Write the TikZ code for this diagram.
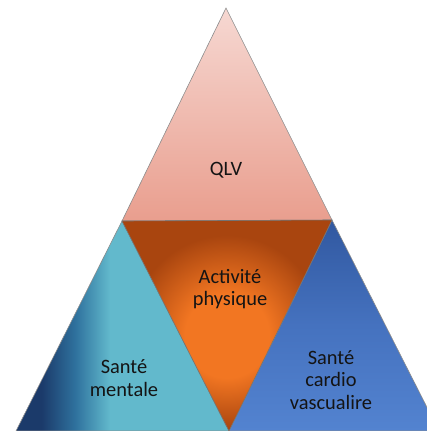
\documentclass[tikz,border=0pt]{standalone}
\usepackage{fontspec}
\setmainfont{Carlito}
\definecolor{pinkTop}{HTML}{F6D8D2}
\definecolor{pinkBot}{HTML}{E99E8E}
\definecolor{orgIn}{HTML}{F27622}
\definecolor{orgOut}{HTML}{A9450F}
\definecolor{tealDark}{HTML}{1B3A6A}
\definecolor{tealMid}{HTML}{2F729E}
\definecolor{tealLight}{HTML}{62B9CC}
\definecolor{blueDark}{HTML}{3158A0}
\definecolor{blueMid}{HTML}{4572BF}
\definecolor{blueLight}{HTML}{5383D0}
% left triangle: dark band on the far left, teal elsewhere
\pgfdeclarehorizontalshading{mentalshade}{100bp}{%
  color(0bp)=(tealDark); color(31bp)=(tealDark); color(39bp)=(tealMid);
  color(47bp)=(tealLight); color(100bp)=(tealLight)}
% central triangle: bright orange core, darker brown rim
\pgfdeclareradialshading{activeshade}{\pgfpoint{0bp}{-3bp}}{%
  color(0bp)=(orgIn); color(10bp)=(orgIn); color(23bp)=(orgOut); color(50bp)=(orgOut)}
\begin{document}
\begin{tikzpicture}[x=1bp,y=-1bp,
  tri/.style={draw=black!45, line width=0.6bp, line join=miter},
  lbl/.style={font=\fontsize{20.5}{22.5}\selectfont, text=black!92, align=center, inner sep=0pt}]
\useasboundingbox (0,0) rectangle (427,431);
\clip (0,0) rectangle (427,431);
% corner points of the four triangles
\coordinate (apex) at (226,8);
\coordinate (bl) at (122,221);
\coordinate (br) at (332,220);
\coordinate (bm) at (229,431);
\coordinate (ll) at (16,431);
\coordinate (rr) at (439,431);
% left triangle: mental health
\shade[tri, shading=mentalshade]
  (bl) -- (bm) -- (ll) -- cycle;
% right triangle: cardiovascular health
\shade[tri, top color=blueDark, bottom color=blueLight, middle color=blueMid]
  (br) -- (rr) -- (bm) -- cycle;
% top triangle: quality of life
\shade[tri, top color=pinkTop, bottom color=pinkBot]
  (apex) -- (br) -- (bl) -- cycle;
% central inverted triangle: physical activity
\shade[tri, draw=black!55, shading=activeshade]
  (bl) -- (br) -- (bm) -- cycle;
% labels
\node[lbl] (qlv) at (226,170) {QLV};
\node[lbl] (act) at (230,289) {Activité\\physique};
\node[lbl] (ment) at (124,378) {Santé\\mentale};
\node[lbl] (card) at (331,380) {Santé\\cardio\\vascualire};
\end{tikzpicture}
\end{document}
